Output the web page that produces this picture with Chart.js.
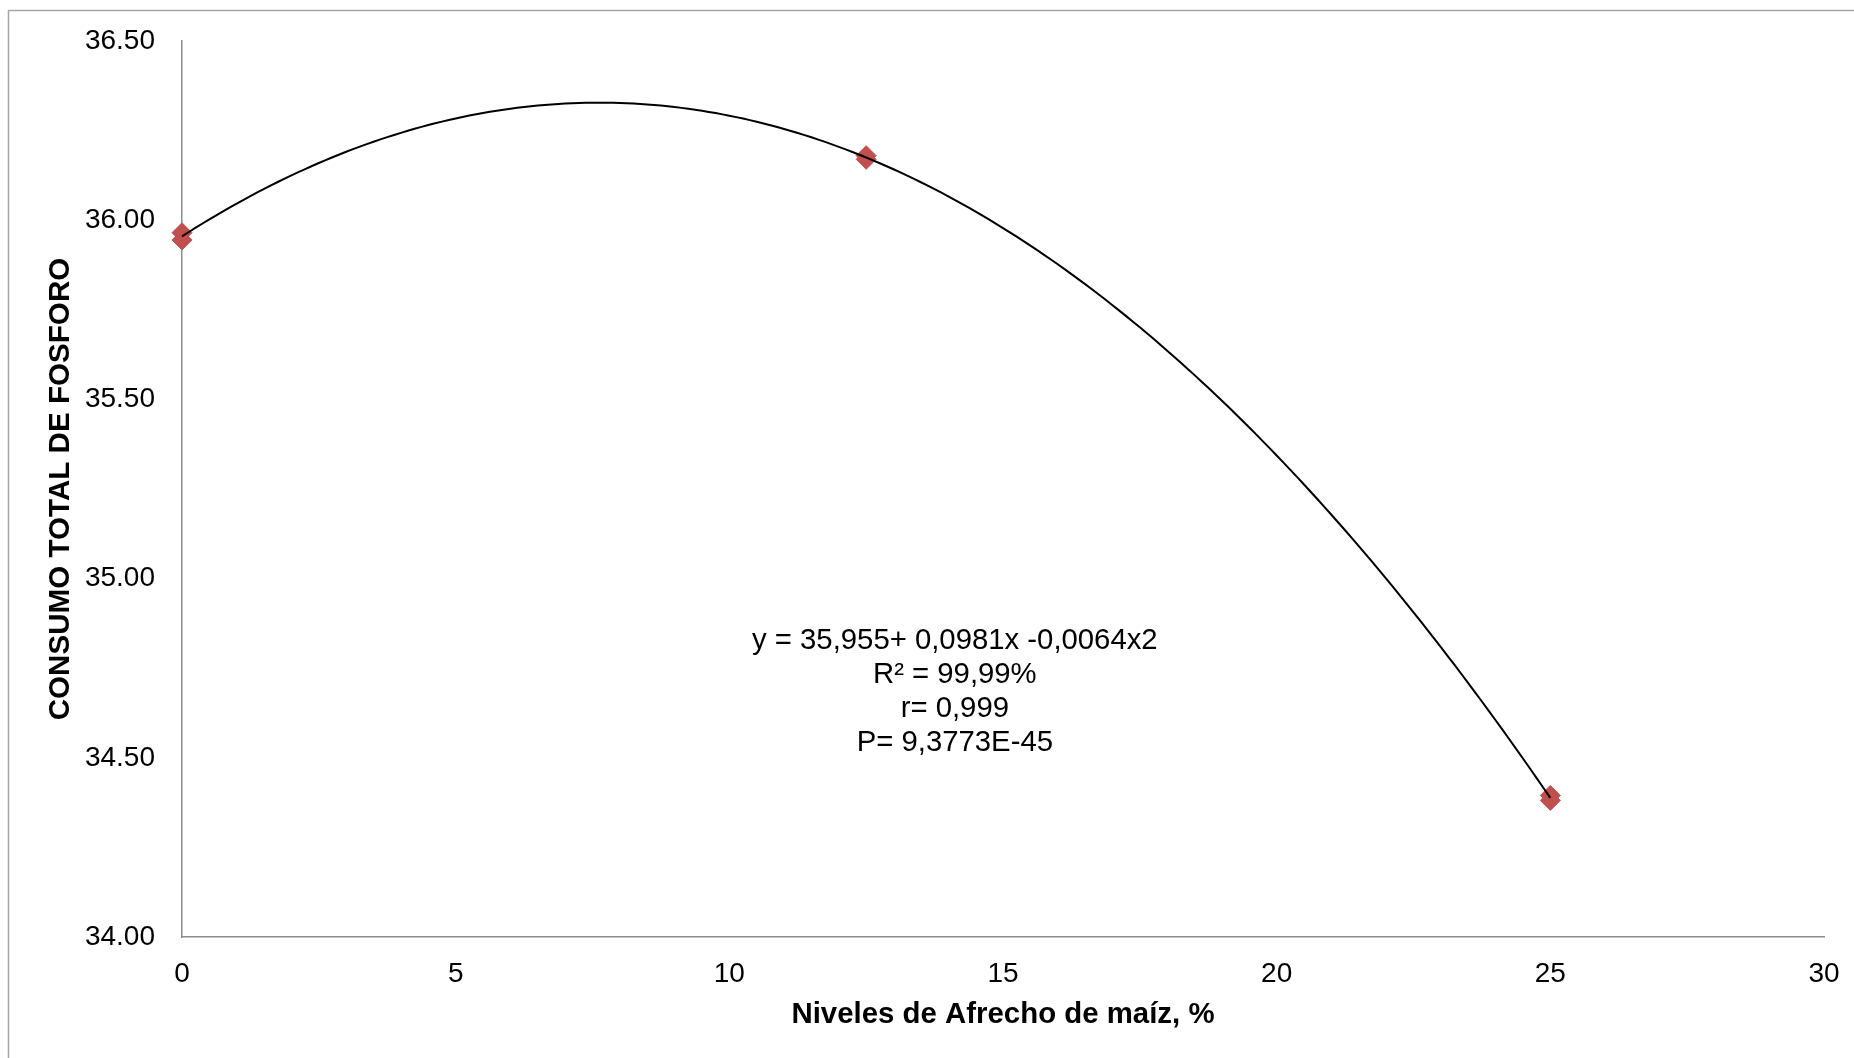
<!DOCTYPE html>
<html>
<head>
<meta charset="utf-8">
<title>Consumo total de fósforo</title>
<script src="https://cdn.jsdelivr.net/npm/chart.js@4/dist/chart.umd.min.js"></script>
<style>
  html, body { margin: 0; padding: 0; background: #ffffff; }
  #wrap { position: relative; width: 1854px; height: 1058px; }
</style>
</head>
<body>
<div id="wrap"><canvas id="chart" width="1854" height="1058"></canvas></div>
<script>
// Niveles de afrecho de maíz (%) and consumo total de fósforo, two replicates per level
const niveles = [0, 0, 12.5, 12.5, 25, 25];
const consumo = [35.965, 35.945, 36.180, 36.170, 34.395, 34.381];

// Axis ranges and tick labels
const xTicks = [0, 5, 10, 15, 20, 25, 30];
const yTicks = [34.0, 34.5, 35.0, 35.5, 36.0, 36.5];

// Regression statistics shown on the plot
const ecuacion = [
  'y = 35,955+ 0,0981x -0,0064x2',
  'R² = 99,99%',
  'r= 0,999',
  'P= 9,3773E-45'
];

const FONT = "'Liberation Sans', Arial, sans-serif";

// Second-order least-squares fit of the observations (polynomial trendline)
function fitQuadratic(xs, ys) {
  const n = xs.length;
  let s = [0, 0, 0, 0, 0], t = [0, 0, 0];
  for (let i = 0; i < n; i++) {
    let p = 1;
    for (let k = 0; k < 5; k++) { s[k] += p; if (k < 3) t[k] += p * ys[i]; p *= xs[i]; }
  }
  const A = [[s[0], s[1], s[2], t[0]], [s[1], s[2], s[3], t[1]], [s[2], s[3], s[4], t[2]]];
  for (let c = 0; c < 3; c++) {
    for (let r = c + 1; r < 3; r++) {
      const f = A[r][c] / A[c][c];
      for (let k = c; k < 4; k++) A[r][k] -= f * A[c][k];
    }
  }
  const coef = [0, 0, 0];
  for (let r = 2; r >= 0; r--) {
    let v = A[r][3];
    for (let k = r + 1; k < 3; k++) v -= A[r][k] * coef[k];
    coef[r] = v / A[r][r];
  }
  return coef;
}

const coef = fitQuadratic(niveles, consumo);
const xMin = Math.min(...niveles), xMax = Math.max(...niveles);
const tendencia = [];
for (let i = 0; i <= 200; i++) {
  const x = xMin + (xMax - xMin) * i / 200;
  tendencia.push({ x: x, y: coef[0] + coef[1] * x + coef[2] * x * x });
}

// Grey frame around the whole chart
const framePlugin = {
  id: 'frame',
  beforeDraw(chart) {
    const ctx = chart.ctx;
    ctx.save();
    ctx.strokeStyle = '#a6a6a6';
    ctx.lineWidth = 1.5;
    ctx.strokeRect(8.5, 10.5, chart.width + 20, chart.height + 20);
    ctx.restore();
  }
};

// Equation block centred inside the plot
const equationPlugin = {
  id: 'equation',
  afterDatasetsDraw(chart) {
    const ctx = chart.ctx;
    const xs = chart.scales.x, ys = chart.scales.y;
    const cx = xs.getPixelForValue(14.12);
    const cy = ys.getPixelForValue(34.826);
    ctx.save();
    ctx.font = '29.3px ' + FONT;
    ctx.fillStyle = '#000000';
    ctx.textAlign = 'center';
    ctx.textBaseline = 'middle';
    ecuacion.forEach((line, i) => ctx.fillText(line, cx, cy + i * 34));
    ctx.restore();
  }
};

new Chart(document.getElementById('chart'), {
  type: 'scatter',
  data: {
    datasets: [
      {
        label: 'Polinómica',
        data: tendencia,
        showLine: true,
        borderColor: '#000000',
        borderWidth: 2,
        pointRadius: 0,
        fill: false,
        clip: false,
        order: 0
      },
      {
        label: 'Consumo total de fósforo',
        data: niveles.map((x, i) => ({ x: x, y: consumo[i] })),
        pointStyle: 'rectRot',
        pointRadius: 10,
        pointBackgroundColor: '#C0504D',
        pointBorderColor: '#C0504D',
        pointBorderWidth: 1,
        showLine: false,
        clip: false,
        order: 1
      }
    ]
  },
  options: {
    responsive: false,
    animation: false,
    devicePixelRatio: 1,
    layout: { padding: { left: 0, top: 41, right: 30, bottom: 0 } },
    plugins: {
      legend: { display: false },
      tooltip: { enabled: false }
    },
    scales: {
      x: {
        type: 'linear',
        min: xTicks[0],
        max: xTicks[xTicks.length - 1],
        afterBuildTicks: (s) => { s.ticks = xTicks.map(v => ({ value: v })); },
        afterFit: (s) => { s.height = 121; s.paddingLeft = 0; s.paddingRight = 0; },
        grid: { display: false, drawTicks: false },
        border: { display: true, color: '#8c8c8c', width: 1.5 },
        ticks: {
          padding: 20,
          color: '#000000',
          font: { family: FONT, size: 28 },
          callback: (v) => String(v)
        },
        title: {
          display: true,
          text: 'Niveles de Afrecho de maíz, %',
          color: '#000000',
          font: { family: FONT, size: 29.4, weight: 'bold' },
          padding: { top: 0, bottom: 25 }
        }
      },
      y: {
        type: 'linear',
        min: yTicks[0],
        max: yTicks[yTicks.length - 1],
        afterBuildTicks: (s) => { s.ticks = yTicks.map(v => ({ value: v })); },
        afterFit: (s) => { s.width = 182; s.paddingTop = 0; s.paddingBottom = 0; },
        grid: { display: false, drawTicks: false },
        border: { display: true, color: '#8c8c8c', width: 1.5 },
        ticks: {
          padding: 27,
          color: '#000000',
          font: { family: FONT, size: 28 },
          callback: (v) => Number(v).toFixed(2)
        },
        title: {
          display: true,
          text: 'CONSUMO TOTAL DE FOSFORO',
          color: '#000000',
          font: { family: FONT, size: 29.6, weight: 'bold' },
          padding: { top: 43, bottom: 0 }
        }
      }
    }
  },
  plugins: [framePlugin, equationPlugin]
});
</script>
</body>
</html>
